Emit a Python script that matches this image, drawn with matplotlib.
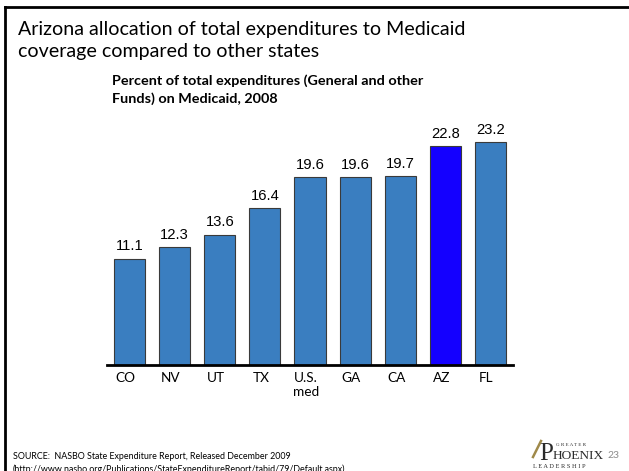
import matplotlib
matplotlib.use("Agg")
import matplotlib.pyplot as plt
import matplotlib.transforms as mtransforms
from matplotlib.lines import Line2D

# ─── Data ─────────────────────────────────────────────────────────────────────
states = ["CO", "NV", "UT", "TX", "U.S.\nmed", "GA", "CA", "AZ", "FL"]
pct_medicaid = [11.1, 12.3, 13.6, 16.4, 19.6, 19.6, 19.7, 22.8, 23.2]
highlight = "AZ"

title_lines = ["Arizona allocation of total expenditures to Medicaid",
               "coverage compared to other states"]
subtitle_lines = ["Percent of total expenditures (General and other",
                  "Funds) on Medicaid, 2008"]
source_lines = ["SOURCE:  NASBO State Expenditure Report, Released December 2009",
                "(http://www.nasbo.org/Publications/StateExpenditureReport/tabid/79/Default.aspx)"]
page_no = "23"

# ─── Layout (pixels of a 629x471 slide) ──────────────────────────────────────
W, H = 629, 471
DPI = 100
BAR_BLUE = "#3a7ec0"
AZ_BLUE = "#1400ff"


def fx(x):
    return x / W


def fy(y):
    return 1 - y / H


fig = plt.figure(figsize=(W / DPI, H / DPI), dpi=DPI)
fig.patch.set_facecolor("white")

# slide frame (top + left only)
fig.add_artist(Line2D([fx(5), 1], [fy(7), fy(7)], color="black", lw=2.0))
fig.add_artist(Line2D([fx(5), fx(5)], [fy(7), 0], color="black", lw=2.0))

# titles
cal = ["Lato", "DejaVu Sans"]
fig.text(fx(18), fy(35), title_lines[0], fontsize=14.1, family=cal, va="baseline")
fig.text(fx(18), fy(56.5), title_lines[1], fontsize=14.1, family=cal, va="baseline")
fig.text(fx(112), fy(85), subtitle_lines[0], fontsize=10.4, family=cal,
         weight="bold", va="baseline")
fig.text(fx(112), fy(103), subtitle_lines[1], fontsize=10.4, family=cal,
         weight="bold", va="baseline")

# ─── Bar chart ───────────────────────────────────────────────────────────────
ax_left, ax_right, ax_top, ax_bottom = 107, 513, 130, 365
ax = fig.add_axes([fx(ax_left), fy(ax_bottom),
                   (ax_right - ax_left) / W, (ax_bottom - ax_top) / H])

xs = list(range(len(states)))
colors = [AZ_BLUE if s == highlight else BAR_BLUE for s in states]
ax.bar(xs, pct_medicaid, width=0.69, color=colors, edgecolor="#3a3a3a",
       linewidth=0.8, zorder=2)

for x, v in zip(xs, pct_medicaid):
    ax.annotate(f"{v:.1f}", (x, v), xytext=(0, 5.8), textcoords="offset points",
                ha="center", va="baseline", fontsize=10.6,
                family=["Liberation Sans", "DejaVu Sans"])

ax.set_xlim(-0.5, len(states) - 0.5)
ax.set_ylim(0, 24.5)
ax.set_yticks([])
ax.set_xticks(xs)
ax.set_xticklabels(states, fontsize=9.8, family=cal, linespacing=1.2)
ax.tick_params(axis="x", length=0, pad=5)
shift = mtransforms.ScaledTranslation(-4 / DPI, 0, fig.dpi_scale_trans)
for lab in ax.get_xticklabels():
    lab.set_transform(lab.get_transform() + shift)

for side in ("top", "right", "left"):
    ax.spines[side].set_visible(False)
ax.spines["bottom"].set_linewidth(2.0)
ax.spines["bottom"].set_color("black")
ax.patch.set_alpha(0)

# ─── Footer ──────────────────────────────────────────────────────────────────
fig.text(fx(13), fy(459), source_lines[0], fontsize=6.4, family=cal, va="baseline")
fig.text(fx(13), fy(472), source_lines[1], fontsize=6.4, family=cal, va="baseline")
fig.text(fx(607), fy(458), page_no, fontsize=7.5, family=cal, color="#8c8c8c",
         va="baseline")

# logo (text approximation)
serif = ["Liberation Serif", "DejaVu Serif"]
fig.text(fx(539), fy(460), "P", fontsize=18, family=serif, color="#2b2b2b",
         va="baseline")
fig.text(fx(556), fy(446), "G R E A T E R", fontsize=3.6, family=serif,
         color="#2b2b2b", va="baseline")
fig.text(fx(553), fy(459), "HOENIX", fontsize=9.6, family=serif, color="#2b2b2b",
         va="baseline")
fig.text(fx(533), fy(468.5), "L E A D E R S H I P", fontsize=4.6, family=serif,
         color="#2b2b2b", va="baseline")
fig.add_artist(Line2D([fx(533), fx(541)], [fy(457), fy(441)], color="#a08a4a",
                      lw=1.8))

fig.savefig("out.png", dpi=DPI)
